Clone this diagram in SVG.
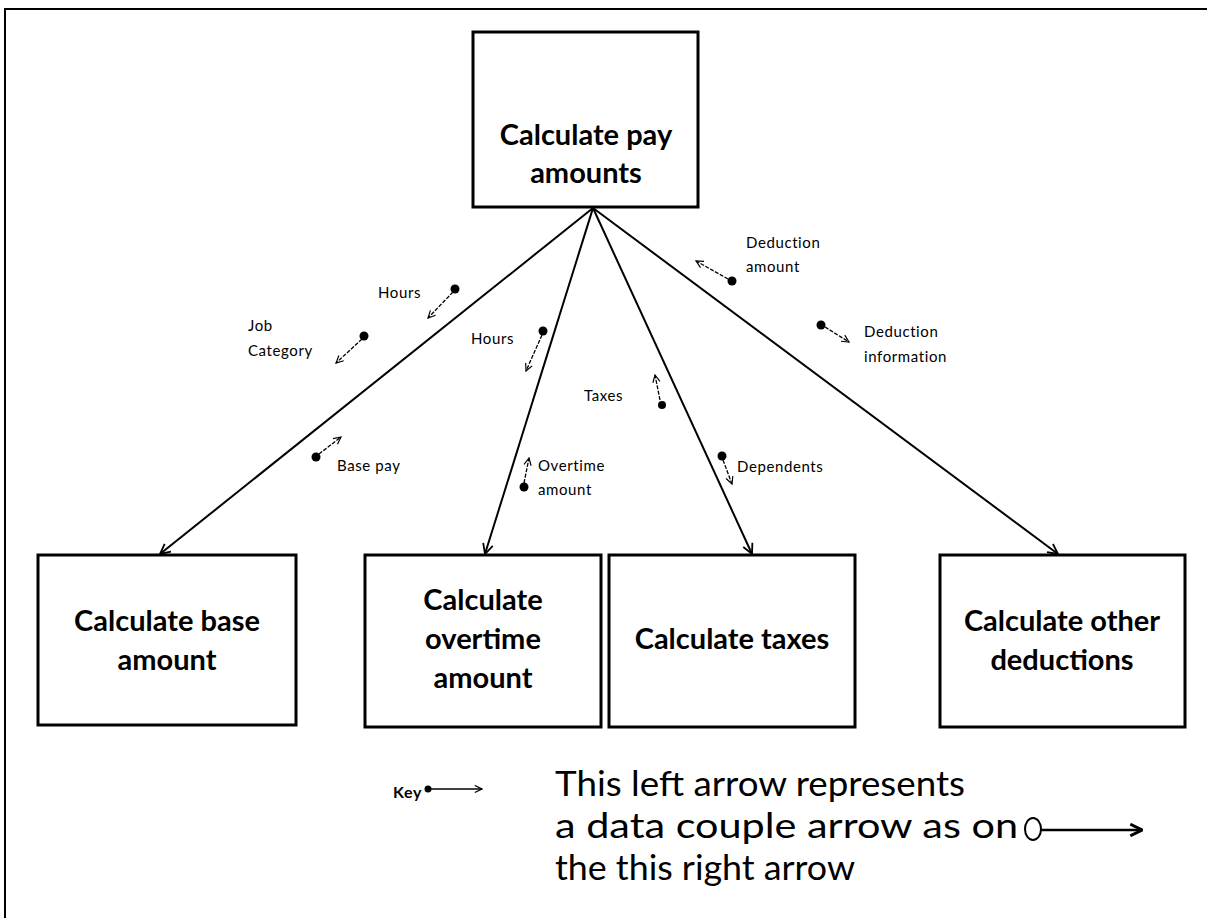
<svg xmlns="http://www.w3.org/2000/svg" width="1207" height="918" viewBox="0 0 1207 918">
<defs>
<style>
.box{fill:#fff;stroke:#000;stroke-width:3}
.big{font-family:Lato,"Liberation Sans",sans-serif;font-weight:bold;font-size:29px;fill:#000;text-anchor:middle}
.lbl{font-family:Lato,"Liberation Sans",sans-serif;font-size:15px;letter-spacing:0.6px;fill:#000}
.key{font-family:Lato,"Liberation Sans",sans-serif;font-size:34px;fill:#000}
.conn{stroke:#000;stroke-width:2;fill:none}
.dc{stroke:#000;stroke-width:1.3;fill:none;stroke-dasharray:4 1.5}
.dot{fill:#000}
</style>
<marker id="ah" viewBox="0 0 12 12" refX="11" refY="6" markerWidth="12" markerHeight="12" markerUnits="userSpaceOnUse" orient="auto">
<path d="M1,1 L11,6 L1,11" fill="none" stroke="#000" stroke-width="1.8"/>
</marker>
<marker id="sah" viewBox="0 0 10 10" refX="9" refY="5" markerWidth="9" markerHeight="9" markerUnits="userSpaceOnUse" orient="auto">
<path d="M1,1 L9,5 L1,9" fill="none" stroke="#000" stroke-width="1.3"/>
</marker>
<marker id="kah" viewBox="0 0 12 12" refX="11" refY="6" markerWidth="14" markerHeight="14" markerUnits="userSpaceOnUse" orient="auto">
<path d="M1,1 L11,6 L1,11" fill="none" stroke="#000" stroke-width="2.5"/>
</marker>
</defs>
<rect x="0" y="0" width="1207" height="918" fill="#fff"/>
<path d="M5,918 V9 H1207" fill="none" stroke="#000" stroke-width="2"/>

<g id="connectors">
<line class="conn" x1="593" y1="208" x2="160" y2="554" marker-end="url(#ah)"/>
<line class="conn" x1="593" y1="208" x2="485" y2="554" marker-end="url(#ah)"/>
<line class="conn" x1="593" y1="208" x2="752" y2="554" marker-end="url(#ah)"/>
<line class="conn" x1="593" y1="208" x2="1058" y2="554" marker-end="url(#ah)"/>
</g>

<g id="node-top">
<rect class="box" x="473" y="32" width="225" height="175"/>
<text class="big" x="586" y="145">Calculate pay</text>
<text class="big" x="586" y="183">amounts</text>
</g>
<g id="node-base">
<rect class="box" x="38" y="555" width="258" height="170"/>
<text class="big" x="167" y="631">Calculate base</text>
<text class="big" x="167" y="670">amount</text>
</g>
<g id="node-overtime">
<rect class="box" x="365" y="555" width="236" height="172"/>
<text class="big" x="483" y="610">Calculate</text>
<text class="big" x="483" y="649">overtime</text>
<text class="big" x="483" y="688">amount</text>
</g>
<g id="node-taxes">
<rect class="box" x="609" y="555" width="246" height="172"/>
<text class="big" x="732" y="649">Calculate taxes</text>
</g>
<g id="node-deductions">
<rect class="box" x="940" y="555" width="245" height="172"/>
<text class="big" x="1062" y="631">Calculate other</text>
<text class="big" x="1062" y="670">deductions</text>
</g>

<g id="couples">
<g id="dc-hours1"><circle class="dot" cx="455" cy="289" r="4.5"/><line class="dc" x1="453" y1="292" x2="428" y2="318" marker-end="url(#sah)"/><text class="lbl" x="378" y="298">Hours</text></g>
<g id="dc-job"><circle class="dot" cx="364" cy="336" r="4.5"/><line class="dc" x1="362" y1="339" x2="336" y2="363" marker-end="url(#sah)"/><text class="lbl" x="248" y="331">Job</text><text class="lbl" x="248" y="356">Category</text></g>
<g id="dc-basepay"><circle class="dot" cx="316" cy="457" r="4.5"/><line class="dc" x1="319" y1="454" x2="341" y2="437" marker-end="url(#sah)"/><text class="lbl" x="337" y="471">Base pay</text></g>
<g id="dc-hours2"><circle class="dot" cx="543" cy="331" r="4.5"/><line class="dc" x1="542" y1="335" x2="526" y2="371" marker-end="url(#sah)"/><text class="lbl" x="471" y="344">Hours</text></g>
<g id="dc-overtime"><circle class="dot" cx="524" cy="487" r="4.5"/><line class="dc" x1="524" y1="483" x2="529" y2="458" marker-end="url(#sah)"/><text class="lbl" x="538" y="471">Overtime</text><text class="lbl" x="538" y="495">amount</text></g>
<g id="dc-taxes"><circle class="dot" cx="662" cy="405" r="4"/><line class="dc" x1="660" y1="400" x2="655" y2="375" marker-end="url(#sah)"/><text class="lbl" x="584" y="401">Taxes</text></g>
<g id="dc-dependents"><circle class="dot" cx="722" cy="456" r="4.5"/><line class="dc" x1="723" y1="460" x2="732" y2="484" marker-end="url(#sah)"/><text class="lbl" x="737" y="472">Dependents</text></g>
<g id="dc-dedamount"><circle class="dot" cx="732" cy="281" r="4.5"/><line class="dc" x1="728" y1="279" x2="696" y2="261" marker-end="url(#sah)"/><text class="lbl" x="746" y="248">Deduction</text><text class="lbl" x="746" y="272">amount</text></g>
<g id="dc-dedinfo"><circle class="dot" cx="821" cy="325" r="4.5"/><line class="dc" x1="825" y1="327" x2="849" y2="342" marker-end="url(#sah)"/><text class="lbl" x="864" y="337">Deduction</text><text class="lbl" x="864" y="362">information</text></g>
</g>

<g id="key">
<text class="lbl" x="393" y="798" style="font-weight:bold;font-size:16px">Key</text>
<circle class="dot" cx="428" cy="789" r="3.5"/>
<line class="dc" x1="430" y1="789" x2="482" y2="789" style="stroke-dasharray:none" marker-end="url(#sah)"/>
<text class="key" x="555" y="796" textLength="410" lengthAdjust="spacingAndGlyphs">This left arrow represents</text>
<text class="key" x="555" y="838" textLength="463" lengthAdjust="spacingAndGlyphs">a data couple arrow as on</text>
<text class="key" x="555" y="880" textLength="300" lengthAdjust="spacingAndGlyphs">the this right arrow</text>
<ellipse cx="1033" cy="829" rx="8" ry="11" fill="#fff" stroke="#000" stroke-width="2"/>
<line x1="1041" y1="830" x2="1142" y2="830" stroke="#000" stroke-width="2.5" marker-end="url(#kah)"/>
</g>
</svg>
